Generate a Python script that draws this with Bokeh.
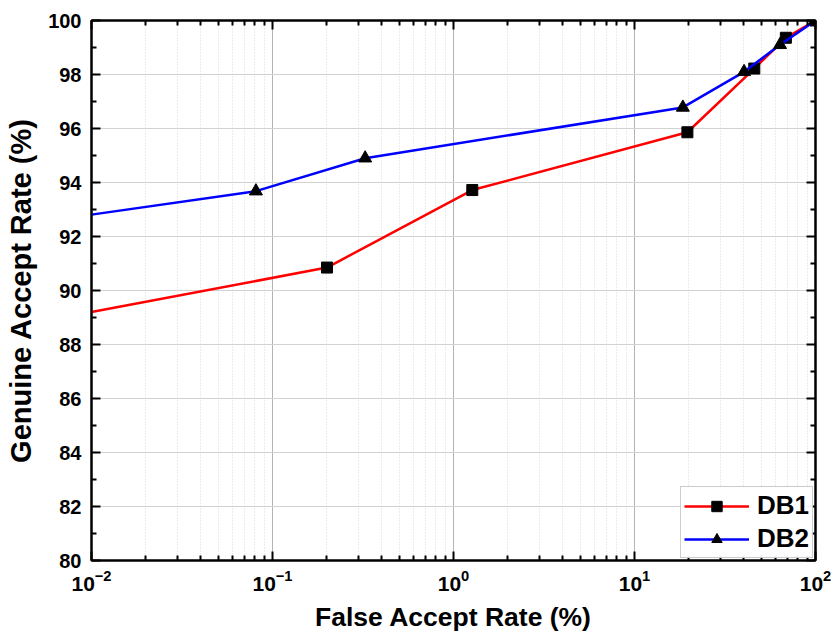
from bokeh.plotting import figure
from bokeh.models import Range1d, FixedTicker, LogAxis, LinearAxis, Legend, LegendItem
from bokeh.embed import file_html
from bokeh.resources import INLINE

# Data (False Accept Rate %, Genuine Accept Rate %)
db1_far = [0.01, 0.2, 1.27, 19.6, 45.9, 68.6, 100]
db1_gar = [89.2, 90.85, 93.72, 95.86, 98.22, 99.36, 100]
db2_far = [0.01, 0.081, 0.325, 18.5, 40.3, 63.7, 100]
db2_gar = [92.81, 93.68, 94.9, 96.78, 98.1, 99.1, 100]

x_ticks = [0.01, 0.1, 1, 10, 100]
y_ticks = [80, 82, 84, 86, 88, 90, 92, 94, 96, 98, 100]

FONT = "Liberation Sans"

p = figure(width=831, height=639, x_axis_type="log",
           x_range=Range1d(0.01, 100), y_range=Range1d(80, 100),
           output_backend="svg", toolbar_location=None,
           min_border_left=91, min_border_right=16, min_border_top=20, min_border_bottom=79)

x_minor = [m * d for d in x_ticks[:-1] for m in range(2, 10)]
y_minor = [v + 1 for v in y_ticks[:-1]]

xt = FixedTicker(ticks=x_ticks, minor_ticks=x_minor)
yt = FixedTicker(ticks=y_ticks, minor_ticks=y_minor)

def style_axis(ax, labels=True):
    ax.axis_line_width = 2
    ax.axis_line_color = "black"
    ax.major_tick_in = 9
    ax.major_tick_out = 0
    ax.minor_tick_in = 5
    ax.minor_tick_out = 0
    ax.major_tick_line_width = 2
    ax.minor_tick_line_width = 2
    ax.major_tick_line_color = "black"
    ax.minor_tick_line_color = "black"
    ax.major_label_text_font = FONT
    ax.major_label_text_font_style = "bold"
    ax.major_label_text_font_size = "20px"
    ax.major_label_text_color = "black" if labels else None
    ax.axis_label_text_color = "black"

p.xaxis.ticker = xt
p.yaxis.ticker = yt
style_axis(p.xaxis[0])
style_axis(p.yaxis[0])
p.xaxis.major_label_text_font_size = "21px"
p.xaxis.major_label_standoff = 9
p.yaxis.major_label_standoff = 10
p.xaxis.axis_label = "False Accept Rate (%)"
p.yaxis.axis_label = "Genuine Accept Rate (%)"
for ax in (p.xaxis[0], p.yaxis[0]):
    ax.axis_label_text_font = FONT
    ax.axis_label_text_font_style = "bold"
p.xaxis.axis_label_text_font_size = "26.5px"
p.yaxis.axis_label_text_font_size = "29px"
p.xaxis.axis_label_standoff = 8
p.yaxis.axis_label_standoff = 8

top = LogAxis(ticker=FixedTicker(ticks=x_ticks, minor_ticks=x_minor))
style_axis(top, labels=False)
top.major_label_text_font_size = "0px"
top.major_label_standoff = 0
p.add_layout(top, "above")
right = LinearAxis(ticker=FixedTicker(ticks=y_ticks, minor_ticks=y_minor))
style_axis(right, labels=False)
right.major_label_text_font_size = "0px"
right.major_label_standoff = 0
p.add_layout(right, "right")

p.xgrid.ticker = xt
p.ygrid.ticker = yt
p.xgrid.grid_line_color = "#b4b4b4"
p.xgrid.grid_line_width = 1
p.ygrid.grid_line_color = "#d2d2d2"
p.ygrid.grid_line_width = 1
p.xgrid.minor_grid_line_color = "#d8d8d8"
p.xgrid.minor_grid_line_dash = "1 2"
p.xgrid.minor_grid_line_width = 1

p.outline_line_color = "black"
p.outline_line_width = 2
p.background_fill_color = "white"
p.border_fill_color = "white"

l1 = p.line(db1_far, db1_gar, line_color="red", line_width=2.5)
m1 = p.scatter(db1_far[1:], db1_gar[1:], marker="square", size=11, fill_color="black", line_color="black")
l2 = p.line(db2_far, db2_gar, line_color="blue", line_width=2.5)
m2 = p.scatter(db2_far[1:], db2_gar[1:], marker="triangle", size=13, fill_color="black", line_color="black")

legend = Legend(items=[LegendItem(label="DB1", renderers=[l1, m1]),
                       LegendItem(label="DB2", renderers=[l2, m2])],
                location="bottom_right")
legend.label_text_font = FONT
legend.label_text_font_style = "bold"
legend.label_text_font_size = "26px"
legend.label_text_color = "black"
legend.glyph_width = 65
legend.glyph_height = 26
legend.label_height = 26
legend.spacing = 2
legend.padding = 3
legend.margin = 2
legend.border_line_color = "#999999"
legend.border_line_width = 1
legend.label_standoff = 8
p.add_layout(legend)

open("out.html", "w").write(file_html(p, INLINE))
